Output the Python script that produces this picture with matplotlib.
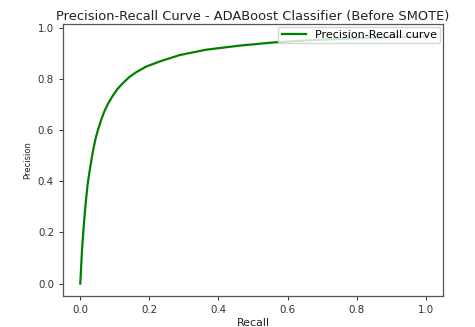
import matplotlib
matplotlib.use("Agg")
import matplotlib.pyplot as plt

# values
recall = [0.0, 0.005, 0.01, 0.015, 0.021, 0.029, 0.037, 0.044, 0.051, 0.060,
          0.070, 0.082, 0.095, 0.108, 0.123, 0.142, 0.162, 0.191, 0.23, 0.288,
          0.365, 0.462, 0.558, 0.65, 0.75, 0.85, 0.93, 1.0]
precision = [0.0, 0.13, 0.225, 0.305, 0.385, 0.457, 0.52, 0.565, 0.6, 0.638,
             0.674, 0.707, 0.736, 0.761, 0.783, 0.807, 0.826, 0.848, 0.868, 0.893,
             0.914, 0.93, 0.942, 0.95, 0.956, 0.961, 0.964, 0.966]

title = "Precision-Recall Curve - ADABoost Classifier (Before SMOTE)"
x_ticks = [0.0, 0.2, 0.4, 0.6, 0.8, 1.0]
y_ticks = [0.0, 0.2, 0.4, 0.6, 0.8, 1.0]

fig = plt.figure(figsize=(4.75, 3.27), dpi=100)
ax = fig.add_axes([63 / 475, 1 - 296 / 327, 380 / 475, 272 / 327])

ax.plot(recall, precision, color="green", lw=1.6, label="Precision-Recall curve",
        solid_joinstyle="round")

ax.set_xticks(x_ticks)
ax.set_yticks(y_ticks)
ax.tick_params(labelsize=7.4, length=3, width=0.7, colors="#333333")
for s in ax.spines.values():
    s.set_color("#555555")
    s.set_linewidth(0.9)

ax.set_xlabel("Recall", fontsize=7.9, labelpad=2, color="#222222")
ax.set_ylabel("Precision", fontsize=6.0, labelpad=4, color="#222222")
ax.set_title(title, fontsize=9.4, pad=3, color="#222222")

ax.legend(loc="upper right", fontsize=8.0, borderaxespad=0.25, handlelength=2.2,
          borderpad=0.3, framealpha=0.8)

fig.savefig("out.png", dpi=100)
